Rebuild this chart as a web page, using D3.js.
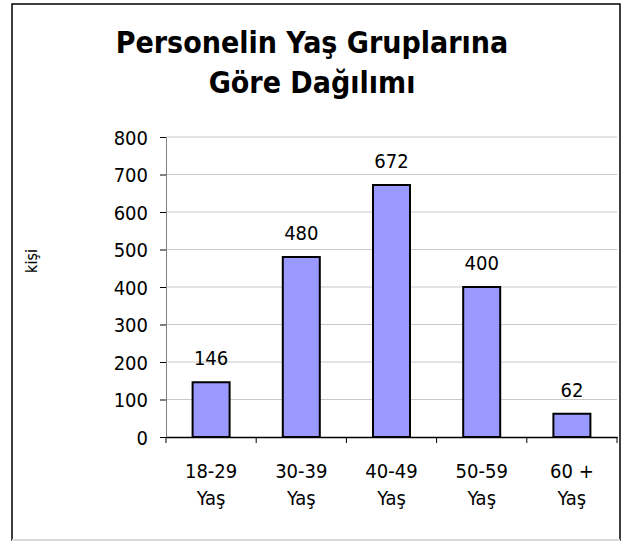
<!DOCTYPE html>
<html><head><meta charset="utf-8">
<script src="https://cdn.jsdelivr.net/npm/d3@7"></script>
<style>body{margin:0;background:#fff}svg{display:block}</style>
</head><body>
<script>
const categories = [["18-29","Yaş"],["30-39","Yaş"],["40-49","Yaş"],["50-59","Yaş"],["60 +","Yaş"]];
const values = [146, 480, 672, 400, 62];
const yTicks = [0,100,200,300,400,500,600,700,800];
const titleLines = ["Personelin Yaş Gruplarına","Göre Dağılımı"];
const yLabel = "kişi";

(function(){
const W = 623, H = 541;
const svg = d3.select("body").append("svg").attr("width", W).attr("height", H);
const font = "'DejaVu Sans Condensed', 'DejaVu Sans', sans-serif";

svg.append("rect").attr("x", 12).attr("y", 4).attr("width", 608).attr("height", 536)
  .attr("fill", "#fff").attr("stroke", "#000").attr("stroke-width", 1.5);
svg.append("line").attr("x1", 12).attr("x2", 620).attr("y1", 540).attr("y2", 540)
  .attr("stroke", "#d8d8d8").attr("stroke-width", 2);

const pL = 166, pR = 617, pT = 137, pB = 437;
const x = d3.scaleBand().domain(categories.map((d,i)=>i)).range([pL, pR]);
const y = d3.scaleLinear().domain([0, 800]).range([pB, pT]);

svg.append("g").selectAll("line").data(yTicks.filter(d=>d>0)).join("line")
  .attr("x1", pL).attr("x2", pR).attr("y1", d=>y(d)).attr("y2", d=>y(d))
  .attr("stroke", "#c8c8c8").attr("stroke-width", 1);

const ya = svg.append("g").attr("transform", `translate(${pL},0)`)
  .call(d3.axisLeft(y).tickValues(yTicks).tickSize(6).tickPadding(12));
ya.select(".domain").attr("stroke", "#808080");
ya.selectAll(".tick line").attr("stroke", "#000");
ya.selectAll("text").attr("font-family", font).attr("font-size", 20).attr("fill", "#000").attr("dy", "0.36em");

const bw = 37;
svg.append("g").selectAll("rect").data(values).join("rect")
  .attr("x", (d,i)=>x(i)+x.bandwidth()/2 - bw/2)
  .attr("y", d=>y(d)).attr("width", bw).attr("height", d=>pB - y(d))
  .attr("fill", "#9999ff").attr("stroke", "#000").attr("stroke-width", 2);

const xa = svg.append("g").attr("transform", `translate(0,${pB})`)
  .call(d3.axisBottom(x).tickSize(0).tickFormat(""));
xa.select(".domain").attr("stroke", "#000").attr("stroke-width", 1.5);
xa.selectAll(".tick").remove();
const xTickPos = categories.map((d,i)=>x(i)).concat([pR]);
svg.append("g").selectAll("line").data(xTickPos).join("line")
  .attr("x1", d=>d).attr("x2", d=>d).attr("y1", pB).attr("y2", pB+6)
  .attr("stroke", "#000");

const xl = svg.append("g").selectAll("text").data(categories).join("text")
  .attr("x", (d,i)=>x(i)+x.bandwidth()/2).attr("y", 478)
  .attr("text-anchor", "middle").attr("font-family", font).attr("font-size", 20);
xl.append("tspan").text(d=>d[0]);
xl.append("tspan").attr("x", (d,i)=>x(i)+x.bandwidth()/2).attr("dy", 27).text(d=>d[1]);

svg.append("g").selectAll("text").data(values).join("text")
  .attr("x", (d,i)=>x(i)+x.bandwidth()/2).attr("y", d=>y(d)-17)
  .attr("text-anchor", "middle").attr("font-family", font).attr("font-size", 20)
  .text(d=>d);

svg.append("g").selectAll("text").data(titleLines).join("text")
  .attr("x", 312).attr("y", (d,i)=>53 + i*40)
  .attr("text-anchor", "middle").attr("font-family", font).attr("font-weight", "bold")
  .attr("font-size", 30).text(d=>d);

svg.append("text").attr("transform", "translate(37,261) rotate(-90)")
  .attr("text-anchor", "middle").attr("font-family", font).attr("font-size", 16).text(yLabel);
})();
</script>
</body></html>
